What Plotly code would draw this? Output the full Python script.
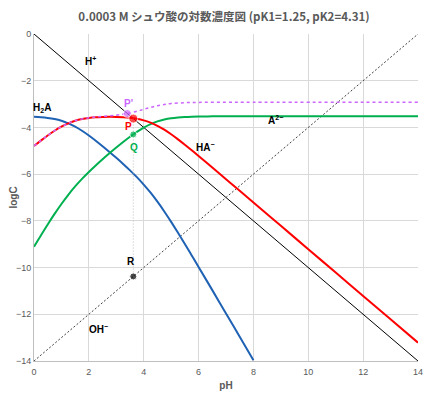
import plotly.graph_objects as go

# pH grid and species log concentrations
ph = [0, 0.25, 0.5, 0.75, 1, 1.25, 1.5, 1.75, 2, 2.25, 2.5, 2.75, 3, 3.25, 3.5, 3.75,
      4, 4.25, 4.5, 4.75, 5, 5.25, 5.5, 5.75, 6, 6.5, 7, 7.5, 8]
log_h2a = [-3.5467, -3.5643, -3.5940, -3.6423, -3.7168, -3.8241, -3.9671, -4.1431, -4.3458,
           -4.5677, -4.8030, -5.0479, -5.3010, -5.5631, -5.8375, -6.1296, -6.4465, -6.7952,
           -7.1793, -7.5975, -8.0436, -8.5101, -8.9901, -9.4784, -9.9717, -10.9657, -11.9638,
           -12.9632, -13.9630]

ph_long = ph + [9, 10, 11, 12, 13, 14]
log_ha = [-4.7967, -4.5643, -4.3440, -4.1423, -3.9668, -3.8241, -3.7171, -3.6431, -3.5958,
          -3.5677, -3.5530, -3.5479, -3.5510, -3.5631, -3.5875, -3.6296, -3.6965, -3.7952,
          -3.9293, -4.0975, -4.2936, -4.5101, -4.7401, -4.9784, -5.2217, -5.7157, -6.2138,
          -6.7132, -7.2130, -8.2129, -9.2129, -10.2129, -11.2129, -12.2129, -13.2129]
log_a2 = [-9.1067, -8.6243, -8.1540, -7.7023, -7.2768, -6.8841, -6.5271, -6.2031, -5.9058,
          -5.6277, -5.3630, -5.1079, -4.8610, -4.6231, -4.3975, -4.1896, -4.0065, -3.8552,
          -3.7393, -3.6575, -3.6036, -3.5701, -3.5501, -3.5384, -3.5317, -3.5257, -3.5238,
          -3.5232, -3.5230, -3.5229, -3.5229, -3.5229, -3.5229, -3.5229, -3.5229]

ph_dash = [0, 0.5, 1, 1.5, 2, 2.5, 3, 3.25, 3.5, 3.75, 4, 4.25, 4.5, 4.75, 5, 5.5, 6, 7, 8, 14]
log_dash = [-4.7966, -4.3437, -3.9660, -3.7144, -3.5874, -3.5269, -3.4733, -3.4333, -3.3781,
            -3.3070, -3.2253, -3.1436, -3.0723, -3.0177, -2.9799, -2.9411, -2.9274, -2.9215,
            -2.9208, -2.9208]

ph_ends = [0, 14]
log_h = [0, -14]
log_oh = [-14, 0]

# special points
pt_names = ["P'", "P", "Q", "R"]
pt_ph = [3.40, 3.62, 3.62, 3.62]
pt_log = [-3.40, -3.62, -4.30, -10.38]
pt_colors = ["#CC66FF", "#FF0000", "#00B050", "#000000"]

# labels
lab_text = ["H<sup>+</sup>", "H<sub>2</sub>A", "HA<sup>\u2212</sup>", "A<sup>2\u2212</sup>", "OH<sup>\u2212</sup>",
            "P'", "P", "Q", "R"]
lab_x = [2.05, 0.3, 6.25, 8.8, 2.35, 3.45, 3.43, 3.65, 3.55]
lab_y = [-1.15, -3.15, -4.85, -3.7, -12.65, -2.97, -3.95, -4.88, -9.75]
lab_col = ["#000000", "#000000", "#000000", "#000000", "#000000",
           "#CC66FF", "#FF0000", "#00B050", "#000000"]

fig = go.Figure()
fig.add_trace(go.Scatter(x=ph_ends, y=log_h, mode="lines", line=dict(color="#000000", width=1)))
fig.add_trace(go.Scatter(x=ph_ends, y=log_oh, mode="lines", line=dict(color="#404040", width=1, dash="2px,2px")))
fig.add_trace(go.Scatter(x=ph, y=log_h2a, mode="lines", line=dict(color="#1F62B4", width=2, shape="spline")))
fig.add_trace(go.Scatter(x=ph_long, y=log_a2, mode="lines", line=dict(color="#00B050", width=2, shape="spline")))
fig.add_trace(go.Scatter(x=ph_long, y=log_ha, mode="lines", line=dict(color="#FF0000", width=2, shape="spline")))
fig.add_trace(go.Scatter(x=ph_dash, y=log_dash, mode="lines",
                         line=dict(color="#CC66FF", width=1.5, dash="3px,3px", shape="spline")))
fig.add_trace(go.Scatter(x=[pt_ph[1], pt_ph[3]], y=[pt_log[1], pt_log[3]], mode="lines",
                         line=dict(color="#BFBFBF", width=1, dash="1px,2px")))
fig.add_trace(go.Scatter(x=pt_ph, y=pt_log, mode="markers",
                         marker=dict(color=pt_colors, size=[8, 9, 7, 7])))

for t, x, y, c in zip(lab_text, lab_x, lab_y, lab_col):
    fig.add_annotation(x=x, y=y, text="<b>" + t + "</b>", showarrow=False,
                       font=dict(size=10, color=c, family="Liberation Sans, Arial"))

fig.update_layout(
    width=432, height=391,
    margin=dict(l=26, r=22, t=26, b=38, autoexpand=False),
    paper_bgcolor="white", plot_bgcolor="white",
    showlegend=False,
    title=dict(text="<b>0.0003 M シュウ酸の対数濃度図 (pK1=1.25, pK2=4.31)</b>",
               x=0.5, xanchor="center", y=0.988, yanchor="top",
               font=dict(size=11.5, color="#595959", family="Noto Sans CJK JP")),
)
fig.update_xaxes(range=[0, 14], dtick=2, showgrid=True, gridcolor="#D9D9D9", gridwidth=1,
                 zeroline=False, showline=True, linecolor="#BFBFBF", ticks="", automargin=False,
                 ticklabelstandoff=2,
                 tickfont=dict(size=9, color="#595959", family="Liberation Sans, Arial"),
                 title=dict(text="<b>pH</b>", font=dict(size=10, color="#595959", family="Liberation Sans, Arial"),
                            standoff=6))
fig.update_yaxes(range=[-14, 0], dtick=2, showgrid=True, gridcolor="#D9D9D9", gridwidth=1,
                 zeroline=False, showline=True, linecolor="#BFBFBF", ticks="", automargin=False,
                 tickfont=dict(size=9, color="#595959", family="Liberation Sans, Arial"),
                 title=dict(text="<b>logC</b>", font=dict(size=10, color="#595959", family="Liberation Sans, Arial"),
                            standoff=4))

fig.write_html("out.html")
